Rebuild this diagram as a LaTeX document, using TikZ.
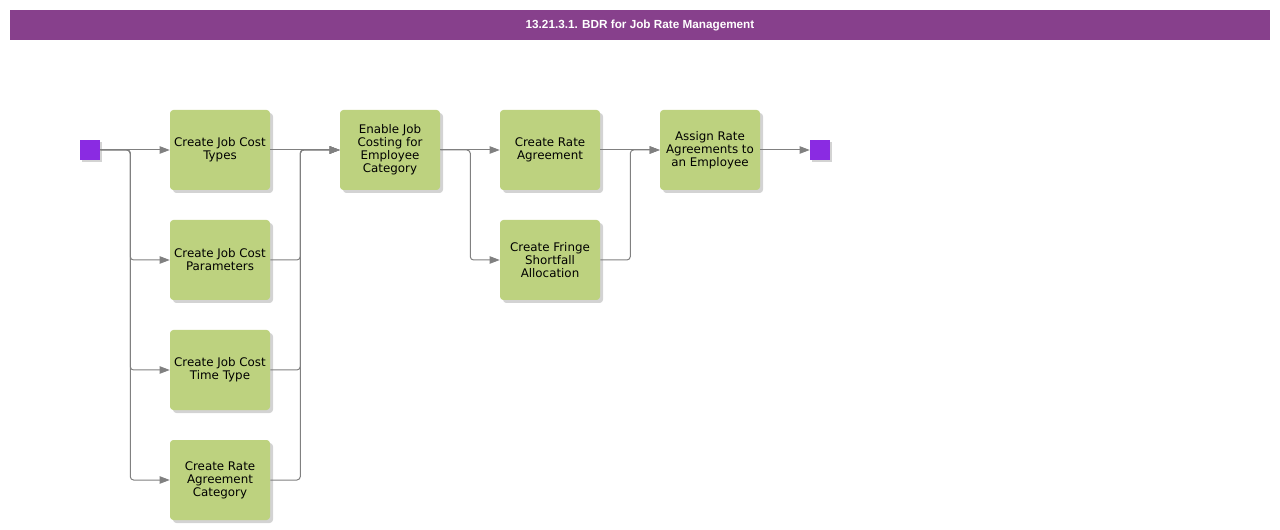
\documentclass[tikz,border=0pt]{standalone}
\usepackage{fontspec}
\setmainfont{DejaVu Sans}
\newfontfamily\headfont{Liberation Sans}
\usepackage{tikz}
\usetikzlibrary{arrows.meta,shadows,positioning}
\definecolor{barpurple}{RGB}{135,64,140}
\definecolor{termviolet}{RGB}{138,43,226}
\definecolor{taskgreen}{RGB}{189,210,127}
\definecolor{linegray}{RGB}{128,128,128}

\begin{document}
\begin{tikzpicture}[x=0.75pt, y=-0.75pt,
  task/.style={rectangle, rounded corners=2.5pt,
    minimum width=75pt, minimum height=60pt, inner sep=2pt,
    fill=taskgreen, draw=none, align=center,
    font=\fontsize{8.9}{9.75}\selectfont, text=black,
    drop shadow={opacity=0.35, shadow xshift=2.25pt, shadow yshift=-2.25pt, fill=gray}},
  term/.style={rectangle, minimum size=15pt, inner sep=0pt,
    fill=termviolet, draw=none,
    drop shadow={opacity=0.35, shadow xshift=1.5pt, shadow yshift=-1.5pt, fill=gray}},
  headbar/.style={rectangle, minimum width=945pt, minimum height=22.5pt,
    fill=barpurple, text=white, font=\headfont\bfseries\fontsize{8.8}{10}\selectfont},
  flow/.style={-{Triangle[length=7.5pt, width=5.5pt]}, draw=linegray, line width=0.75pt,
    rounded corners=2.5pt}
]
\useasboundingbox (0,0) rectangle (1280,530);
\node[headbar] (title) at (640,25) {13.21.3.1. BDR for Job Rate Management};

\node[term] (start) at (90,150) {};
\node[task] (costtypes) at (220,150) {Create Job Cost\\Types};
\node[task] (costparams) at (220,260) {Create Job Cost\\Parameters};
\node[task] (timetype) at (220,370) {Create Job Cost\\Time Type};
\node[task] (ratecat) at (220,480) {Create Rate\\Agreement\\Category};
\node[task] (enable) at (390,150) {Enable Job\\Costing for\\Employee\\Category};
\node[task] (rateagr) at (550,150) {Create Rate\\Agreement};
\node[task] (fringe) at (550,260) {Create Fringe\\Shortfall\\Allocation};
\node[task] (assign) at (710,150) {Assign Rate\\Agreements to\\an Employee};
\node[term] (finish) at (820,150) {};

% split to the set-up steps
\draw[flow] (start) -- (costtypes);
\foreach \x in {costparams,timetype,ratecat} {\draw[flow] (start.east) -- ++(30,0) |- (\x.west);}
% join into enabling step
\draw[flow] (costtypes) -- (enable);
\foreach \x in {costparams,timetype,ratecat} {\draw[flow] (\x.east) -- ++(30,0) |- (enable.west);}
\draw[flow] (enable) -- (rateagr);
\draw[flow] (enable.east) -- ++(30,0) |- (fringe.west);
\draw[flow] (rateagr) -- (assign);
\draw[flow] (fringe.east) -- ++(30,0) |- (assign.west);
\draw[flow] (assign) -- (finish);
\end{tikzpicture}
\end{document}
